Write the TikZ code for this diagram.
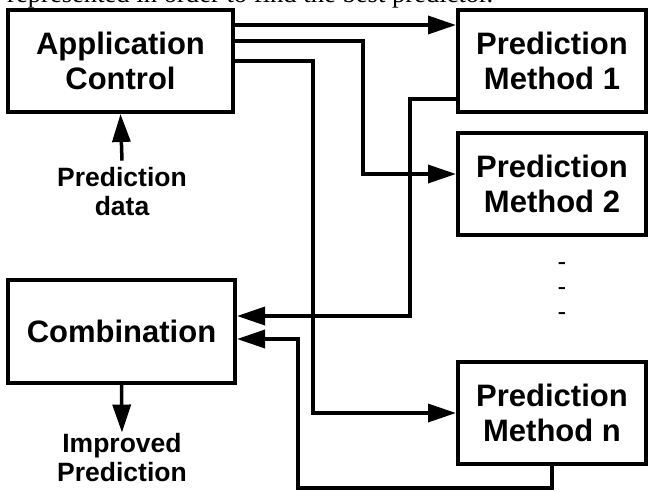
\documentclass[tikz,border=0pt]{standalone}
\usepackage{fontspec}
\setmainfont{Liberation Sans}
\newfontfamily\capfont{Liberation Serif}
\usetikzlibrary{arrows.meta,positioning}

\begin{document}
\begin{tikzpicture}[x=1pt,y=-1pt,
 box/.style={draw,line width=4pt,minimum width=188pt,minimum height=102pt,align=center,font=\fontsize{31}{35}\selectfont\bfseries},
 arr/.style={line width=3.5pt,-{Triangle[length=28pt,width=18pt]}},
 lbl/.style={align=center,inner xsep=0pt,font=\fontsize{26.5}{29}\selectfont\bfseries}]
\useasboundingbox (0,0) rectangle (649,491);
\begin{scope}
\clip (0,0) rectangle (649,491);
\node[anchor=base west,inner sep=0pt,font=\fontsize{26.6}{30}\selectfont\capfont] (cap) at (7,2) {represented in order to find the best predictor.};
\end{scope}
\node[box,minimum width=225pt] (app) at (120.5,61) {Application\\Control};
\node[box,minimum width=227pt,minimum height=103pt] (comb) at (121.5,331.5) {Combination};
\node[box] (m1) at (552,61) {Prediction\\Method 1};
\node[box] (m2) at (552,184) {Prediction\\Method 2};
\node[box] (mn) at (552,413) {Prediction\\Method n};
\foreach \k/\yy in {1/267,2/292,3/317}
 \node[font=\fontsize{26}{30}\selectfont,inner sep=0pt] (dot\k) at (562,\yy) {-};
\node[lbl,inner ysep=7pt] (pdata) at (122,192) {Prediction\\data};
\node[lbl,inner ysep=1pt] (imp) at (122,458) {Improved\\Prediction};
\coordinate (b2) at (363,174);
\coordinate (b3) at (313,413);
\coordinate (b4) at (410,316);
\coordinate (b5) at (298,488);
\draw[arr] (pdata.north) -- (app.south);
\draw[arr] (comb.south) -- (imp.north);
\draw[arr] ([yshift=36pt]app.east) -- ([yshift=36pt]m1.west);
\draw[arr] ([yshift=20pt]app.east) -| (b2) -- (b2 -| m2.west);
\draw[arr] (app.east) -| (b3) -- (mn.west);
\draw[arr] ([yshift=-38pt]m1.west) -| (b4) -- (b4 -| comb.east);
\draw[arr] (mn.south) |- (b5) |- ([yshift=-7.5pt]comb.east);
\end{tikzpicture}
\end{document}
